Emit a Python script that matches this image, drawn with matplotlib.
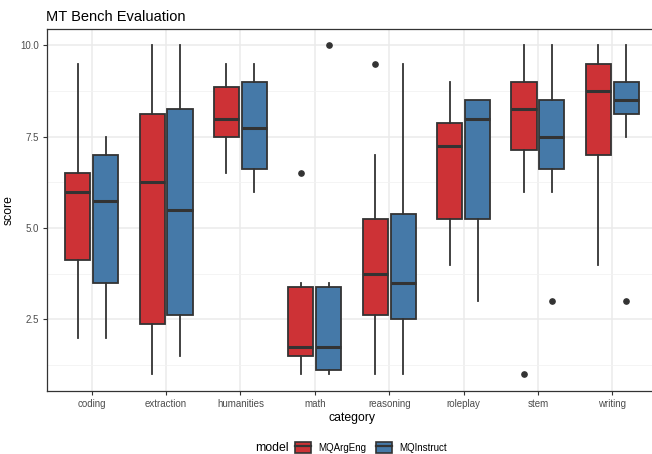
"""MT Bench evaluation: score by category and model (boxplots)."""

import matplotlib

matplotlib.use("Agg")
import matplotlib.pyplot as plt  # noqa: E402
from matplotlib.patches import Patch  # noqa: E402
from matplotlib.lines import Line2D  # noqa: E402
from matplotlib.legend_handler import HandlerTuple  # noqa: E402

plt.rcParams["font.family"] = ["Liberation Sans", "DejaVu Sans"]

categories = ["coding", "extraction", "humanities", "math",
              "reasoning", "roleplay", "stem", "writing"]
models = ["MQArgEng", "MQInstruct"]

# box statistics, one list per model, in category order
whislo = {
    "MQArgEng":   [2.0, 1.0, 6.5, 1.0, 1.0, 4.0, 6.0, 4.0],
    "MQInstruct": [2.0, 1.5, 6.0, 1.0, 1.0, 3.0, 6.0, 7.5],
}
q1 = {
    "MQArgEng":   [4.125, 2.375, 7.5, 1.5, 2.625, 5.25, 7.125, 7.0],
    "MQInstruct": [3.5, 2.625, 6.625, 1.125, 2.5, 5.25, 6.625, 8.125],
}
med = {
    "MQArgEng":   [6.0, 6.25, 8.0, 1.75, 3.75, 7.25, 8.25, 8.75],
    "MQInstruct": [5.75, 5.5, 7.75, 1.75, 3.5, 8.0, 7.5, 8.5],
}
q3 = {
    "MQArgEng":   [6.5, 8.125, 8.875, 3.375, 5.25, 7.875, 9.0, 9.5],
    "MQInstruct": [7.0, 8.25, 9.0, 3.375, 5.375, 8.5, 8.5, 9.0],
}
whishi = {
    "MQArgEng":   [9.5, 10.0, 9.5, 3.5, 7.0, 9.0, 10.0, 10.0],
    "MQInstruct": [7.5, 10.0, 9.5, 3.5, 9.5, 8.5, 10.0, 10.0],
}
fliers = {
    "MQArgEng":   [[], [], [], [6.5], [9.5], [], [1.0], []],
    "MQInstruct": [[], [], [], [10.0], [], [], [3.0], [3.0]],
}

colors = {"MQArgEng": "#CD3236", "MQInstruct": "#4579A8"}
edge = "#333333"

fig = plt.figure(figsize=(6.52, 4.54), dpi=100)
ax = fig.add_axes([0.0721, 0.1394, 0.9356, 0.7967])

offsets = {"MQArgEng": -0.1875, "MQInstruct": 0.1875}
for m in models:
    stats = []
    for i in range(len(categories)):
        stats.append(dict(whislo=whislo[m][i], q1=q1[m][i], med=med[m][i],
                          q3=q3[m][i], whishi=whishi[m][i], fliers=fliers[m][i]))
    pos = [i + 1 + offsets[m] for i in range(len(categories))]
    ax.bxp(stats, positions=pos, widths=0.3375, patch_artist=True,
           showcaps=False, manage_ticks=False, zorder=3,
           boxprops=dict(facecolor=colors[m], edgecolor=edge, linewidth=1.3),
           medianprops=dict(color=edge, linewidth=2.2, solid_capstyle="butt"),
           whiskerprops=dict(color=edge, linewidth=1.3),
           flierprops=dict(marker="o", markerfacecolor=edge, markeredgecolor=edge,
                           markersize=3.8))

ax.set_xlim(0.4, 8.6)
ax.set_ylim(0.55, 10.45)
ax.set_xticks(range(1, len(categories) + 1))
ax.set_xticklabels(categories)
ax.set_yticks([2.5, 5.0, 7.5, 10.0])
ax.set_yticklabels(["2.5", "5.0", "7.5", "10.0"])
ax.set_yticks([1.25, 3.75, 6.25, 8.75], minor=True)
ax.tick_params(axis="both", which="major", labelsize=7, colors=edge,
               labelcolor="#4D4D4D", length=3, width=0.8, pad=3)
ax.tick_params(axis="y", which="minor", length=0)
ax.grid(True, which="major", color="#EBEBEB", linewidth=1.1, zorder=0)
ax.grid(True, which="minor", axis="y", color="#F2F2F2", linewidth=0.6, zorder=0)
ax.set_axisbelow(True)
for s in ax.spines.values():
    s.set_color(edge)
    s.set_linewidth(0.9)

ax.set_xlabel("category", fontsize=8.8, labelpad=2)
ax.set_ylabel("score", fontsize=8.8, labelpad=4)
ax.set_title("MT Bench Evaluation", fontsize=10.5, loc="left", x=-0.001, pad=6)

handles = [(Patch(facecolor=colors[m], edgecolor=edge, linewidth=1.2),
            Line2D([], [], color=edge, linewidth=1.6)) for m in models]
fig.text(0.391, 0.014, "model", fontsize=8.8, ha="left", va="center")
fig.legend(handles, models, handler_map={tuple: HandlerTuple(ndivide=1)},
           loc="center left", bbox_to_anchor=(0.445, 0.014), ncol=2,
           frameon=False, fontsize=7, handlelength=1.6, handleheight=1.4,
           handletextpad=0.8, columnspacing=1.0, borderpad=0)

fig.savefig("out.png", dpi=100)
print("wrote out.png")
